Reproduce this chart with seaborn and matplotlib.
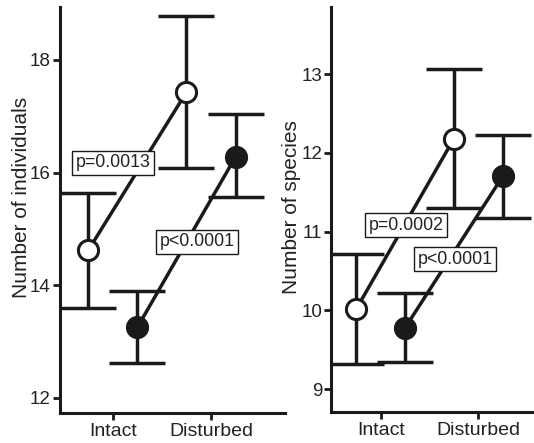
import pandas as pd
import seaborn as sns
import numpy as np
import matplotlib.pyplot as plt

# Data
habitat = ["Intact", "Disturbed"]
groups = ["open", "closed"]

ind_mean_open = [14.62, 17.43]
ind_low_open = [13.59, 16.08]
ind_high_open = [15.64, 18.79]
ind_mean_closed = [13.25, 16.28]
ind_low_closed = [12.62, 15.56]
ind_high_closed = [13.90, 17.04]

sp_mean_open = [10.02, 12.18]
sp_low_open = [9.32, 11.30]
sp_high_open = [10.72, 13.06]
sp_mean_closed = [9.78, 11.70]
sp_low_closed = [9.35, 11.17]
sp_high_closed = [10.22, 12.23]

ind_pvals = ["p=0.0013", "p<0.0001"]
sp_pvals = ["p=0.0002", "p<0.0001"]

sns.set_style("ticks")
plt.rcParams["font.family"] = ["Liberation Sans", "DejaVu Sans"]

fig = plt.figure(figsize=(5.34, 4.43), dpi=100)
ax1 = fig.add_axes([0.112, 0.068, 0.422, 0.916])
ax2 = fig.add_axes([0.620, 0.070, 0.376, 0.914])

offset = {"open": -0.25, "closed": 0.25}
ink = "#1a1a1a"


def make_df(m_o, l_o, h_o, m_c, l_c, h_c):
    rows = []
    for g, m, lo, hi in [("open", m_o, l_o, h_o), ("closed", m_c, l_c, h_c)]:
        for i, h in enumerate(habitat):
            rows.append({"habitat": h, "group": g, "x": i + offset[g],
                         "mean": m[i], "low": lo[i], "high": hi[i]})
    return pd.DataFrame(rows)


def draw(ax, df, pvals, ppos, ylim, yticks, ylabel, xlim, labxy):
    # error bars
    ax.errorbar(df["x"], df["mean"],
                yerr=[df["mean"] - df["low"], df["high"] - df["mean"]],
                fmt="none", ecolor=ink, elinewidth=2.5,
                capsize=20, capthick=2.5, zorder=2)
    # connecting lines
    sns.lineplot(data=df, x="x", y="mean", units="group", estimator=None,
                 color=ink, linewidth=2.5, ax=ax, zorder=3, legend=False)
    # markers
    for g, fc in [("open", "white"), ("closed", ink)]:
        d = df[df["group"] == g]
        ax.plot(d["x"], d["mean"], "o", ms=14.5, mfc=fc, mec=ink,
                mew=2.2, zorder=4)
    for txt, (px, py) in zip(pvals, ppos):
        ax.text(px, py, txt, ha="center", va="center", fontsize=12.8, zorder=5,
                color="#222222",
                bbox=dict(boxstyle="square,pad=0.2", fc="white", ec=ink, lw=1))
    ax.set_xlim(*xlim)
    ax.set_ylim(*ylim)
    ax.set_yticks(yticks)
    ax.set_xticks([0, 1])
    ax.set_xticklabels(habitat)
    ax.set_xlabel("")
    ax.set_ylabel(ylabel, fontsize=15, color="#222222")
    ax.yaxis.set_label_coords(*labxy)
    ax.tick_params(axis="both", labelsize=14, width=2, length=5, color=ink,
                   labelcolor="#222222")
    ax.tick_params(axis="y", labelsize=13.5, pad=1.5)
    ax.tick_params(axis="x", pad=2)
    sns.despine(ax=ax)
    for s in ["left", "bottom"]:
        ax.spines[s].set_linewidth(2.2)
        ax.spines[s].set_color(ink)


df1 = make_df(ind_mean_open, ind_low_open, ind_high_open,
              ind_mean_closed, ind_low_closed, ind_high_closed)
df2 = make_df(sp_mean_open, sp_low_open, sp_high_open,
              sp_mean_closed, sp_low_closed, sp_high_closed)

draw(ax1, df1, ind_pvals, [(0.0, 16.17), (0.86, 14.77)],
     (11.73, 18.94), [12, 14, 16, 18], "Number of individuals", (-0.54, 1.755),
     (-0.128, 0.53))
draw(ax2, df2, sp_pvals, [(0.26, 11.08), (0.76, 10.65)],
     (8.71, 13.85), [9, 10, 11, 12, 13], "Number of species", (-0.51, 1.55),
     (-0.148, 0.505))

fig.savefig("out.png", dpi=100)
